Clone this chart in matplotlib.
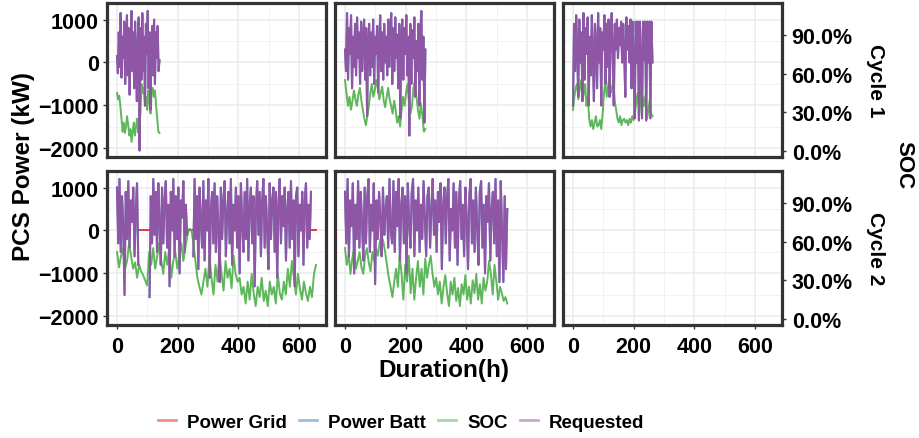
import numpy as np
import matplotlib
matplotlib.use('Agg')
import matplotlib.pyplot as plt
from matplotlib.lines import Line2D
from matplotlib.ticker import FixedLocator, FuncFormatter

plt.rcParams['font.family'] = ['Liberation Sans', 'DejaVu Sans']
plt.rcParams['font.weight'] = 'bold'

nan = float('nan')

# ---------------- data ----------------
cycles = ['Cycle 1', 'Cycle 2']
series_names = ['Power Grid', 'Power Batt', 'SOC', 'Requested']
series_colors = ['#E41A1C', '#377EB8', '#4DAF4A', '#984EA3']
x_ticks = [0, 200, 400, 600]
y_ticks = [-2000, -1000, 0, 1000]
soc_ticks = [0, 30, 60, 90]

# Cycle 1, column 1
dur_c1a = 140
req_c1a = [150, -250, 700, -100, 1150, -350, 600, 100, 950, -500, 400, 1100, -300, 800, -750, 500,
           1200, -200, 700, -600, 950, 0, -900, 600, 1050, -2050, 800, -400, 1150, -200, 600, -1000,
           900, 200, 1200, -600, 700, -1100, 500, 850, -300, 1000, -500, 700, 100, 850, -200, 50]
soc_c1a = [45, 40, 43, 35, 25, 15, 22, 14, 19, 27, 20, 12, 17, 7, 15, 22, 12, 19, 25, 14, 20, 30,
           52, 45, 49, 35, 42, 32, 47, 39, 29, 45, 49, 42, 47, 35, 25, 15, 14]

# Cycle 1, column 2
dur_c1b = 265
req_c1b = [300, -200, 1150, -400, 800, 200, 1100, -600, 600, -100, 900, -300, 1050, 100, 700, -500,
           950, -200, 600, 1000, -400, 800, -1250, 500, 900, -300, 700, -100, 1000, -500, 600, 200,
           850, -700, 400, 1100, -200, 700, -400, 900, 0, 600, -300, 1000, -100, 750, 1150, -500,
           800, -200, 1050, 100, 650, -600, 900, -1300, 500, 1000, -400, 800, 200, 1100, -300, 600,
           -1700, 900, -500, 750, 100, 1050, -800, 500, -200, 900, -1000, 700, 1200, -400, 600,
           -1400, 300]
soc_c1b = [55, 45, 35, 42, 32, 39, 47, 40, 35, 44, 49, 39, 32, 25, 20, 27, 35, 45, 52, 42, 47, 55,
           49, 40, 45, 50, 39, 34, 42, 49, 40, 35, 29, 39, 32, 22, 27, 19, 32, 42, 35, 45, 52, 39,
           29, 35, 49, 55, 42, 32, 25, 37, 27, 15, 17]

# Cycle 1, column 3
dur_c1c = 262
req_c1c = [-1000, 900, -200, 1100, 300, -800, 1000, 0, 700, -900, 1150, -400, 800, 200, 1050, -1000,
           600, -300, 1100, 100, -900, 900, 400, -600, 1150, 0, 800, -1000, 700, 300, 1100, -500,
           900, -100, 1000, -800, 600, 1150, 200, -1000, 900, 300, 1000, 100, 800, 400, 950, 0, 900,
           200, -800, 1050, 300, 850, 0, 1000, -600, 950, 0, -1300, 950, 0, 950, -1350, 950, 0,
           -1300, 950, 50, 950, -1350, 950, 0, 950, -1300, 950, 0]
soc_c1c = [32, 42, 49, 52, 40, 49, 55, 39, 45, 52, 35, 42, 25, 19, 24, 17, 22, 27, 19, 20, 24, 17,
           29, 45, 54, 42, 50, 57, 45, 49, 55, 39, 32, 25, 22, 27, 20, 24, 25, 22, 24, 20, 25, 22,
           27, 24, 29, 39, 45, 32, 47, 27, 42, 35, 44, 25, 32, 40, 29, 27]

# Cycle 2, column 1 (nan = no request, grid idle)
dur_c2a = 656
req_c2a = [1000, -300, 1200, -500, 800, 100, -1500, 900, -200, 1150, -400, 700, 200, 1000, -600, 500,
           1100, -800,
           nan, nan, nan, nan, nan, nan, nan, nan,
           -1550, 800, -300, 1200, -100, 900, -500, 1100, 200, -800, 1000, -300, 700, 1150, -400,
           600, -1300, 900, 0, 1200, -600, 800, -200, 1000, -1000, 700, 300, 1150, -500, 600, -100,
           nan, nan, nan, nan,
           -600, 1200, -200, 800, -900, 1000, 200, -400, 1150, -700, 700, 0, 1200, -1100, 500, 900,
           -300, 1100, -500, 800, 100, -1200, 1000, -200, 700, 1150, -600, 400, 900, -300, 1200,
           -800, 600, 0, 1000, -400, 800, -1000, 1100, 200, -500, 900, -200, 1200, -700, 600, 1000,
           -300, 800, -1300, 500, 1150, -100, 900, -600, 700, 1200, -400, 800, 0, -900, 1100, -200,
           700, 1000, -500, 900, -1100, 600, 1200, -300, 800, 100, 1000, -700, 500, 900, -400, 1150,
           -200, 700, -1300, 800, 1000, -600, 600, 0, 900, -800, 700, 1100, -400, 600, -200, 900,
           nan, nan, nan, nan]
soc_c2a = [52, 40, 49, 55, 39, 45, 59, 49, 39, 44, 32,
           42, 37, 34, 30, 26,
           52, 42, 55, 39, 49, 59, 45, 35, 52, 42, 55, 32, 45, 52, 39, 49, 59, 45, 55,
           65, 70, 69,
           59, 45, 32, 25, 19, 29,
           39, 25, 49, 32, 19, 42, 29, 52, 35, 22, 45, 32, 39, 24, 49, 35, 29,
           32, 19, 25, 12, 29, 15, 35, 20, 10, 25, 17, 32, 14, 22, 10, 29, 19, 25, 12, 35, 20, 15,
           29, 19,
           39, 25, 45, 32, 19, 35, 24, 15, 29, 20, 14, 25, 17, 35, 42]

# Cycle 2, column 2
dur_c2b = 535
req_c2b = [900, -300, 1200, -600, 700, 100, 1100, -1000, 600, -200, 1150, -400, 900, 200, -700, 1000,
           -300, 800, 1200, -500, 600, 0, 1100, -1250, 700, -200, 900, 300, -600, 1000, -100, 500,
           800, -400, 1200, 0, -300, 1150, -500, 900, 100, 1200, -700, 600, 1000, -300, 800, -1000,
           1100, 200, -400, 900, 1200, -600, 700, 0, 1000, -500, 600, -200, 1150, 300, -600, 800,
           1000, -400, 500, 1200, -100, 700, -500, 900, 200, 1100, -900, 600, 1000, -300, 800, 1200,
           -700, 500, 0, 1100, -400, 900, -800, 700, 1150, -200, 600, -600, 1000, 300, -900, 800,
           1200, -300, 700, -500, 1000, 100, -800, 900, 1150, -400, 600, -1000, 800, 200, 1100, -700,
           500, 900, -300, 1200, -600, 700, -1200, 1150, 0, -1200, 800, -900, 500]
soc_c2b = [55, 42, 50, 35, 47, 55, 39, 45, 52, 40, 35, 49, 55, 44, 37, 52, 45, 55, 49, 59,
           65, 60, 52, 42, 32, 25, 17, 29, 39, 25,
           50, 35, 15, 42, 29, 49, 20, 39, 15, 32, 45, 25, 39, 19, 47, 32, 42, 49,
           35, 25, 32, 19, 29, 12, 25, 34, 20, 10, 29, 19, 32, 14, 24, 10, 27, 19, 34, 15, 25, 12,
           30, 20, 35, 15, 27, 12, 32, 22, 29,
           45, 35, 19, 42, 29, 15, 25, 20, 14, 17, 12]

panels = {
    (0, 0): (dur_c1a, req_c1a, soc_c1a),
    (0, 1): (dur_c1b, req_c1b, soc_c1b),
    (0, 2): (dur_c1c, req_c1c, soc_c1c),
    (1, 0): (dur_c2a, req_c2a, soc_c2a),
    (1, 1): (dur_c2b, req_c2b, soc_c2b),
}

# SOC (%) <-> power axis mapping of the secondary axis
def soc2p(s):
    return np.asarray(s, dtype=float) * 30.0 - 2060.0

def p2soc(p):
    return (np.asarray(p, dtype=float) + 2060.0) / 30.0

# ---------------- figure ----------------
W, H = 920, 439
fig = plt.figure(figsize=(W / 100, H / 100), dpi=100)

col_left = [107, 335, 563]
col_w = 219
row_top = [4, 172]
row_h = 154

edge = '#333333'
for r in range(2):
    for c in range(3):
        ax = fig.add_axes([col_left[c] / W, 1 - (row_top[r] + row_h) / H, col_w / W, row_h / H])
        ax.set_xlim(-33, 689)
        ax.set_ylim(-2200, 1385)
        ax.xaxis.set_major_locator(FixedLocator(x_ticks))
        ax.xaxis.set_minor_locator(FixedLocator([100, 300, 500]))
        ax.yaxis.set_major_locator(FixedLocator(y_ticks))
        ax.yaxis.set_minor_locator(FixedLocator([-1500, -500, 500]))
        ax.grid(which='major', color='#EBEBEB', lw=1.1)
        ax.grid(which='minor', color='#F2F2F2', lw=0.7)
        ax.set_axisbelow(True)
        for s in ax.spines.values():
            s.set_color(edge)
            s.set_linewidth(2.3)
        ax.tick_params(which='minor', length=0)
        ax.tick_params(which='major', length=3, width=1, color=edge, labelsize=15.5,
                       labelcolor='black', pad=3)
        ax.tick_params(axis='x', pad=5)
        if c != 0:
            ax.tick_params(axis='y', left=False, labelleft=False)
        if r != 1:
            ax.tick_params(axis='x', bottom=False, labelbottom=False)
        if c == 2:
            sec = ax.secondary_yaxis('right', functions=(p2soc, soc2p))
            sec.yaxis.set_major_locator(FixedLocator(soc_ticks))
            sec.yaxis.set_major_formatter(FuncFormatter(lambda v, pos: f"{v:.1f}%"))
            sec.tick_params(length=3, width=1, color=edge, labelsize=15.5, pad=4)
            sec.spines['right'].set_visible(False)

        if (r, c) in panels:
            dur, req, soc = panels[(r, c)]
            req = np.array(req, dtype=float)
            t = np.linspace(0, dur, len(req))
            gap = np.isnan(req)
            gap_ext = gap.copy()
            gap_ext[1:] |= gap[:-1]
            gap_ext[:-1] |= gap[1:]
            grid_p = np.where(gap_ext, 0.0, np.nan)
            ts = np.linspace(0, dur, len(soc))
            ax.plot(t, grid_p, color=series_colors[0], lw=1.4, alpha=0.85, zorder=2)
            ax.plot(t, req, color=series_colors[1], lw=1.5, alpha=0.85, zorder=3)
            ax.plot(ts, soc2p(soc), color=series_colors[2], lw=1.4, alpha=0.9, zorder=4)
            ax.plot(t, req, color=series_colors[3], lw=1.5, alpha=0.88, zorder=5)

# strip labels
fig.text(876 / W, 1 - 81 / H, cycles[0], rotation=-90, ha='center', va='center', fontsize=15)
fig.text(876 / W, 1 - 249 / H, cycles[1], rotation=-90, ha='center', va='center', fontsize=15)
# axis titles
fig.text(904 / W, 1 - 165 / H, 'SOC', rotation=-90, ha='center', va='center', fontsize=16)
fig.text(24 / W, 1 - 167 / H, 'PCS Power (kW)', rotation=90, ha='center', va='center', fontsize=17.5)
fig.text(444 / W, 1 - 370 / H, 'Duration(h)', ha='center', va='center', fontsize=17.5)

handles = [Line2D([], [], color=col, lw=2, alpha=0.5) for col in series_colors]
fig.legend(handles, series_names, loc='center', bbox_to_anchor=(401 / W, 1 - 423 / H), ncol=4,
           frameon=False, fontsize=13.5, handlelength=0.95, handletextpad=0.6, columnspacing=0.65)

fig.savefig('out.png', dpi=100)
